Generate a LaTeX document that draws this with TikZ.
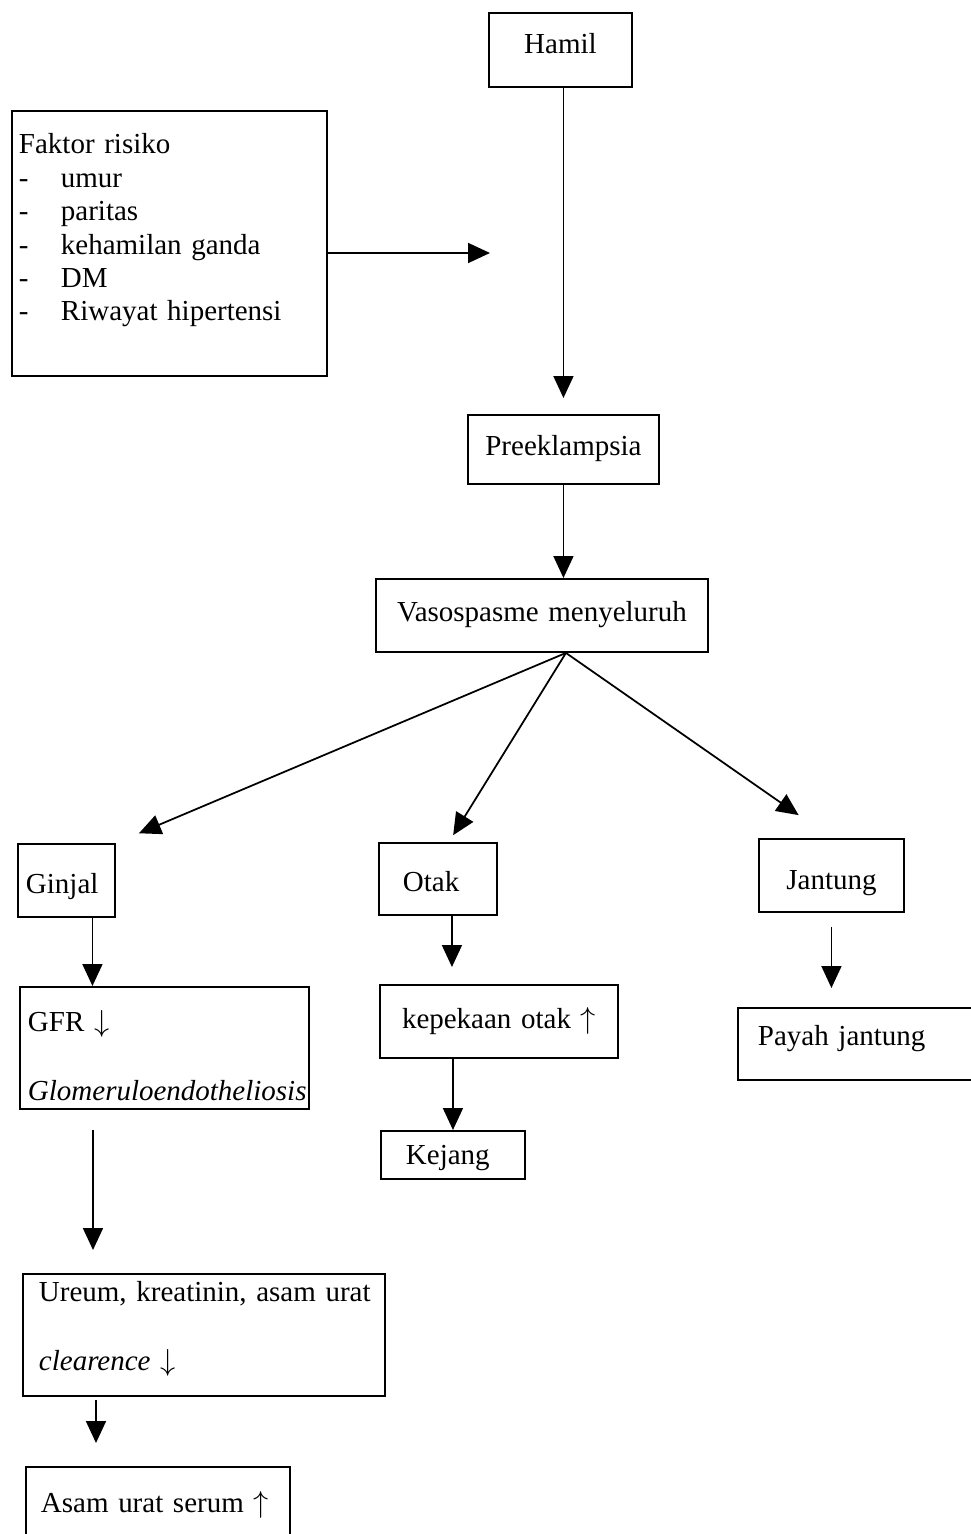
\documentclass[tikz,border=0pt]{standalone}
\usepackage{fontspec}
\setmainfont[WordSpace=0.75]{Liberation Serif}
\usepackage{tikz}
\usetikzlibrary{arrows.meta, positioning, calc}

\begin{document}
\begin{tikzpicture}[
    x=0.02cm, y=-0.02cm,
    block/.style={rectangle, draw, line width=1.1pt, anchor=north west, inner ysep=0pt, font=\fontsize{16.5}{19}\selectfont},
    arrow/.style={line width=1pt, -{Triangle[length=0.44cm, width=0.4cm]}}
]
    \useasboundingbox (0,0) rectangle (970,1534);

    \node [block, text width=2.86cm, inner xsep=0pt, align=center, text height=0.82cm, text depth=0.66cm] (hamil) at (488,12) {Hamil};
    \node [block, text width=6.02cm, inner xsep=0.14cm, align=left, text height=0.86cm, text depth=4.44cm] (faktor) at (11,110) {Faktor risiko\\
        \makebox[0.84cm][l]{-}umur\\
        \makebox[0.84cm][l]{-}paritas\\
        \makebox[0.84cm][l]{-}kehamilan ganda\\
        \makebox[0.84cm][l]{-}DM\\
        \makebox[0.84cm][l]{-}Riwayat hipertensi};
    \node [block, text width=3.82cm, inner xsep=0pt, align=center, text height=0.82cm, text depth=0.56cm] (preek) at (467,414) {Preeklampsia};
    \node [block, text width=6.64cm, inner xsep=0pt, align=center, text height=0.86cm, text depth=0.6cm] (vaso) at (375,578) {Vasospasme menyeluruh};

    \node [block, text width=1.62cm, inner xsep=0.16cm, align=left, text height=1.0cm, text depth=0.46cm] (ginjal) at (17,843) {Ginjal};
    \node [block, text width=1.4cm, inner xsep=0.48cm, align=left, text height=0.98cm, text depth=0.46cm] (otak) at (378,842) {Otak};
    \node [block, text width=2.9cm, inner xsep=0pt, align=center, text height=1.02cm, text depth=0.44cm] (jantung) at (758,838) {Jantung};

    \node [block, text width=5.46cm, inner xsep=0.16cm, align=left, text height=0.9cm, text depth=1.54cm] (gfr) at (19,986) {GFR $\downarrow$\\[0.71cm]\textit{Glomeruloendotheliosis}};
    \node [block, text width=4.76cm, inner xsep=0pt, align=center, text height=0.88cm, text depth=0.58cm] (kepekaan) at (379,984) {kepekaan otak $\uparrow$};
    \node [block, text width=1.88cm, inner xsep=0.5cm, align=left, text height=0.68cm, text depth=0.28cm] (kejang) at (380,1130) {Kejang};
    \node [block, text width=4.4cm, inner xsep=0.4cm, align=left, text height=0.76cm, text depth=0.68cm] (payah) at (737,1007) {Payah jantung};

    \node [block, text width=6.6cm, inner xsep=0.32cm, align=left, text height=0.56cm, text depth=1.88cm] (ureum) at (22,1273) {\mbox{Ureum, kreatinin, asam urat}\\[0.71cm]\textit{clearence} $\downarrow$};
    \node [block, text width=4.68cm, inner xsep=0.3cm, align=left, text height=0.92cm, text depth=1.08cm] (asam) at (25,1466) {Asam urat serum $\uparrow$};

    \coordinate (risk) at (490,253);
    \coordinate (fan) at ($(vaso.south)+(24,0)$);

    \draw [arrow] (faktor.east |- risk) -- (risk);
    \draw [arrow, shorten >=0.32cm] (preek.north |- hamil.south) -- (preek.north);
    \draw [arrow] (preek.south) -- (preek.south |- vaso.north);
    \draw [arrow, shorten >=0.5cm] (fan) -- (ginjal.north east);
    \draw [arrow, shorten >=0.16cm] (fan) -- ([xshift=0.22cm]otak.north);
    \draw [arrow, shorten >=0.8cm] (fan) -- (jantung.north);
    \draw [arrow] ([xshift=0.52cm]ginjal.south) -- ([xshift=0.52cm]ginjal.south |- gfr.north);
    \draw [arrow, shorten <=0.4cm, shorten >=0.46cm] ([xshift=1.48cm]gfr.south west) -- ([xshift=1.48cm]gfr.south west |- ureum.north);
    \draw [arrow, shorten <=0.06cm, shorten >=0.46cm] ([xshift=1.48cm]ureum.south west) -- ([xshift=1.48cm]ureum.south west |- asam.north);
    \draw [arrow, shorten >=0.34cm] ([xshift=0.28cm]otak.south) -- ([xshift=0.28cm]otak.south |- kepekaan.north);
    \draw [arrow] (kejang.north |- kepekaan.south) -- (kejang.north);
    \draw [arrow, shorten <=0.28cm, shorten >=0.38cm] (jantung.south) -- (jantung.south |- payah.north);
\end{tikzpicture}
\end{document}
